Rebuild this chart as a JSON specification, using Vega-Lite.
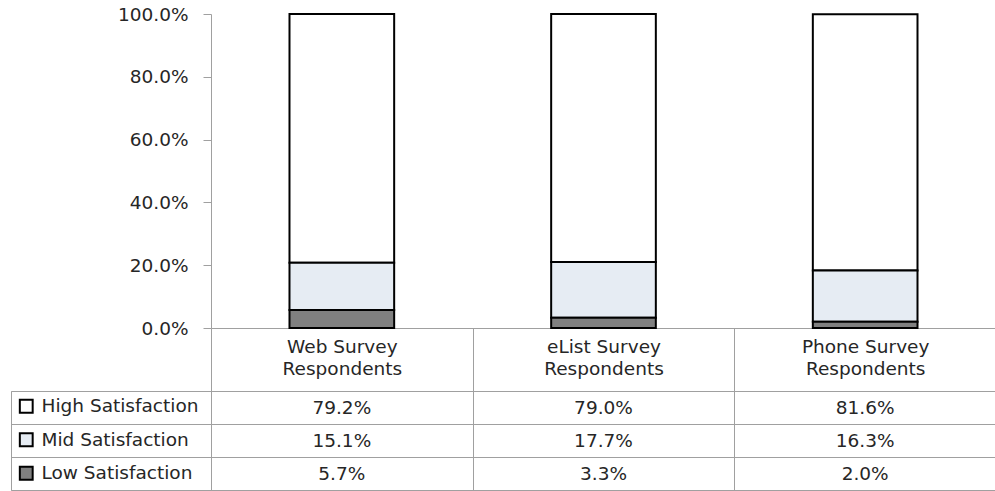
{
  "$schema": "https://vega.github.io/schema/vega-lite/v6.json",
  "padding": {"left": 10, "top": 5, "right": 0, "bottom": 0},
  "config": {"font": "DejaVu Sans", "view": {"stroke": null}},
  "datasets": {
    "sat": [
      {"survey": "Web Survey Respondents", "series": "High Satisfaction", "ord": 3, "value": 0.792},
      {"survey": "Web Survey Respondents", "series": "Mid Satisfaction", "ord": 2, "value": 0.151},
      {"survey": "Web Survey Respondents", "series": "Low Satisfaction", "ord": 1, "value": 0.057},
      {"survey": "eList Survey Respondents", "series": "High Satisfaction", "ord": 3, "value": 0.790},
      {"survey": "eList Survey Respondents", "series": "Mid Satisfaction", "ord": 2, "value": 0.177},
      {"survey": "eList Survey Respondents", "series": "Low Satisfaction", "ord": 1, "value": 0.033},
      {"survey": "Phone Survey Respondents", "series": "High Satisfaction", "ord": 3, "value": 0.816},
      {"survey": "Phone Survey Respondents", "series": "Mid Satisfaction", "ord": 2, "value": 0.163},
      {"survey": "Phone Survey Respondents", "series": "Low Satisfaction", "ord": 1, "value": 0.020}
    ],
    "legend": [
      {"series": "High Satisfaction"},
      {"series": "Mid Satisfaction"},
      {"series": "Low Satisfaction"}
    ]
  },
  "columns": 2,
  "spacing": {"row": 63, "column": 0},
  "bounds": "flush",
  "resolve": {
    "scale": {"x": "independent", "y": "independent", "fill": "independent"},
    "legend": {"fill": "independent"}
  },
  "concat": [
    {
      "width": 200,
      "height": 314,
      "data": {"name": "legend"},
      "mark": {"type": "text", "text": ""},
      "encoding": {}
    },
    {
      "width": 785,
      "height": 314,
      "data": {"name": "sat"},
      "mark": {"type": "bar", "width": {"band": 0.4}, "stroke": "#000000", "strokeWidth": 2},
      "encoding": {
        "x": {
          "field": "survey", "type": "nominal", "sort": null,
          "scale": {"type": "band", "paddingInner": 0, "paddingOuter": 0},
          "axis": {
            "title": null, "orient": "bottom", "tickBand": "extent", "tickSize": 63,
            "tickColor": "#a0a0a0", "domainColor": "#a0a0a0", "labelAngle": 0,
            "labelPadding": -54, "labelBaseline": "top", "labelFontSize": 18.5,
            "labelColor": "#262626", "labelLineHeight": 22,
            "labelExpr": "datum.label ? [replace(datum.label, ' Respondents', ''), 'Respondents'] : ''"
          }
        },
        "y": {
          "field": "value", "type": "quantitative", "stack": "zero",
          "scale": {"domain": [0, 1]},
          "axis": {
            "title": null, "values": [0, 0.2, 0.4, 0.6, 0.8, 1], "format": ".1%",
            "grid": false, "tickSize": 8, "tickColor": "#a0a0a0", "domainColor": "#a0a0a0",
            "labelPadding": 15, "labelFontSize": 18.5, "labelColor": "#262626"
          }
        },
        "fill": {
          "field": "series", "type": "nominal",
          "scale": {
            "domain": ["High Satisfaction", "Mid Satisfaction", "Low Satisfaction"],
            "range": ["#ffffff", "#e6ecf3", "#808080"]
          },
          "legend": null
        },
        "order": {"field": "ord", "type": "quantitative"}
      }
    },
    {
      "width": 200,
      "height": 99,
      "data": {"name": "legend"},
      "view": {"stroke": "#a0a0a0"},
      "mark": {"type": "point", "opacity": 0},
      "encoding": {
        "y": {
          "field": "series", "type": "nominal", "sort": null,
          "scale": {"type": "band", "paddingInner": 0, "paddingOuter": 0},
          "axis": {
            "title": null, "labels": false, "ticks": false, "domain": false,
            "grid": true, "tickBand": "extent", "gridColor": "#a0a0a0"
          }
        },
        "fill": {
          "field": "series", "type": "nominal",
          "scale": {
            "domain": ["High Satisfaction", "Mid Satisfaction", "Low Satisfaction"],
            "range": ["#ffffff", "#e6ecf3", "#808080"]
          },
          "legend": {
            "title": null, "orient": "top-left", "offset": 6, "padding": 0,
            "symbolType": "square", "symbolSize": 165, "symbolStrokeColor": "#000000",
            "symbolStrokeWidth": 2, "symbolOpacity": 1,
            "labelFontSize": 18.5, "labelColor": "#262626", "labelOffset": 6,
            "rowPadding": 11.5
          }
        }
      }
    },
    {
      "width": 785,
      "height": 99,
      "data": {"name": "sat"},
      "view": {"stroke": "#a0a0a0"},
      "mark": {"type": "text", "fontSize": 18.5, "color": "#262626"},
      "encoding": {
        "x": {
          "field": "survey", "type": "nominal", "sort": null,
          "scale": {"type": "band", "paddingInner": 0, "paddingOuter": 0},
          "axis": {
            "title": null, "labels": false, "ticks": false, "domain": false,
            "grid": true, "tickBand": "extent", "gridColor": "#a0a0a0"
          }
        },
        "y": {
          "field": "series", "type": "nominal",
          "sort": ["High Satisfaction", "Mid Satisfaction", "Low Satisfaction"],
          "scale": {"type": "band", "paddingInner": 0, "paddingOuter": 0},
          "axis": {
            "title": null, "labels": false, "ticks": false, "domain": false,
            "grid": true, "tickBand": "extent", "gridColor": "#a0a0a0"
          }
        },
        "text": {"field": "value", "type": "quantitative", "format": ".1%"}
      }
    }
  ]
}
